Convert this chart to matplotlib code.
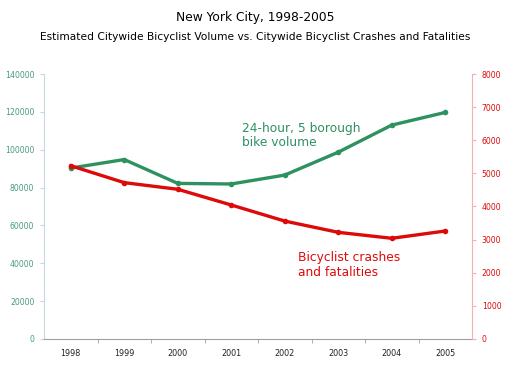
import matplotlib

matplotlib.use("Agg")
import matplotlib.pyplot as plt

years = ["1998", "1999", "2000", "2001", "2002", "2003", "2004", "2005"]
bike_volume = [90300, 94800, 82200, 81900, 86600, 98700, 113000, 119700]
crashes = [5230, 4720, 4520, 4045, 3560, 3220, 3040, 3260]

GREEN = "#2e9160"
RED = "#dd0a0a"

fig = plt.figure(figsize=(5.1, 3.7), dpi=100)
ax = fig.add_axes([0.0863, 0.0838, 0.8392, 0.7162])
ax2 = ax.twinx()

x = range(len(years))
ax.plot(x, bike_volume, color=GREEN, lw=2.4, marker="o", ms=3, zorder=3)
ax2.plot(x, crashes, color=RED, lw=2.4, marker="o", ms=3, zorder=3)

ax.set_xlim(-0.5, len(years) - 0.5)
ax.set_ylim(0, 140000)
ax2.set_ylim(0, 8000)
ax.set_yticks(range(0, 140001, 20000))
ax2.set_yticks(range(0, 8001, 1000))
ax.set_xticks(list(x))
ax.set_xticklabels(years)
ax.set_xticks([i + 0.5 for i in range(len(years) - 1)], minor=True)

for a in (ax, ax2):
    a.spines["top"].set_visible(False)
ax.spines["right"].set_visible(False)
ax2.spines["left"].set_visible(False)
ax2.spines["bottom"].set_visible(False)
ax.spines["left"].set_color("#c8d8dc")
ax2.spines["right"].set_color("#f4b0b0")
ax.spines["bottom"].set_color("#a0a0a0")

ax.tick_params(axis="y", colors="#c8d8dc", labelcolor="#4a9a80", labelsize=5.6, length=3, pad=4)
ax2.tick_params(axis="y", colors="#f4b0b0", labelcolor=RED, labelsize=5.6, length=3, pad=4)
ax.tick_params(axis="x", which="major", length=0, labelsize=5.8, labelcolor="#222222", pad=7)
ax.tick_params(axis="x", which="minor", length=3, color="#a0a0a0")

fig.text(0.5, 0.952, "New York City, 1998-2005", ha="center", va="center", fontsize=8.8)
fig.text(0.5, 0.900, "Estimated Citywide Bicyclist Volume vs. Citywide Bicyclist Crashes and Fatalities",
         ha="center", va="center", fontsize=7.7)

fig.text(242 / 510, 1 - 135 / 370, "24-hour, 5 borough\nbike volume", color=GREEN,
         fontsize=8.8, ha="left", va="center", linespacing=1.1)
fig.text(298 / 510, 1 - 265 / 370, "Bicyclist crashes\nand fatalities", color=RED,
         fontsize=8.8, ha="left", va="center", linespacing=1.1)

fig.savefig("out.png", dpi=100)
